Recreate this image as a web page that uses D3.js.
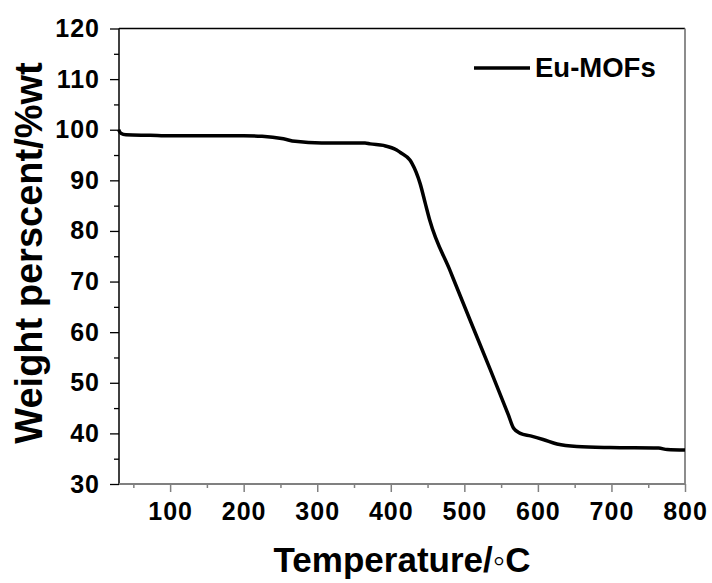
<!DOCTYPE html>
<html><head><meta charset="utf-8">
<script src="https://cdn.jsdelivr.net/npm/d3@7"></script>
<style>
html,body{margin:0;padding:0;background:#fff;}
text{font-family:"Liberation Sans",Arial,sans-serif;font-weight:bold;fill:#000;}
</style></head>
<body>
<svg id="chart" width="712" height="583"></svg>
<script>
const temperature = [30, 33, 40, 73, 100, 150, 200, 225, 254, 270, 306, 340, 365, 372, 390, 408, 413, 426, 429, 440, 447, 453, 481, 508, 535, 560, 567, 576, 590, 607, 626, 653, 698, 764, 776, 800];
const weight =      [100, 99.3, 99.0, 98.9, 98.8, 98.8, 98.8, 98.7, 98.2, 97.7, 97.4, 97.4, 97.4, 97.2, 96.9, 96.0, 95.5, 94.0, 93.3, 89.3, 85.4, 82.1, 72.0, 62.3, 52.7, 43.6, 41.0, 40.0, 39.5, 38.8, 37.9, 37.4, 37.2, 37.1, 36.8, 36.7];
const xTicks = [100, 200, 300, 400, 500, 600, 700, 800];
const xMinor = [50, 150, 250, 350, 450, 550, 650, 750];
const yTicks = [30, 40, 50, 60, 70, 80, 90, 100, 110, 120];
const yMinor = [35, 45, 55, 65, 75, 85, 95, 105, 115];
const seriesName = "Eu-MOFs";
const xTitle = "Temperature/\u25E6C";
const yTitle = "Weight perscent/%wt";

const svg = d3.select("#chart");
const L = 119, R = 685, T = 28.5, B = 484;
const x = d3.scaleLinear().domain([30.5, 800]).range([L, R]);
const y = d3.scaleLinear().domain([30, 120]).range([B, T]);

svg.append("rect").attr("width",712).attr("height",583).attr("fill","#fff");

// bottom axis (gray)
const gx = svg.append("g").attr("transform",`translate(0,${B})`)
  .call(d3.axisBottom(x).tickValues(xTicks).tickSize(8).tickPadding(10).tickFormat(d3.format("d")));
gx.select(".domain").remove();
gx.selectAll(".tick line").attr("stroke","#808080").attr("stroke-width",1.5);
gx.selectAll(".tick text").attr("font-size",25).style("letter-spacing","1px").attr("fill","#000");
svg.append("g").attr("transform",`translate(0,${B})`)
  .call(d3.axisBottom(x).tickValues(xMinor).tickSize(4).tickFormat(""))
  .call(g=>g.select(".domain").remove())
  .selectAll(".tick line").attr("stroke","#808080").attr("stroke-width",1.5);

// left axis (black)
const gy = svg.append("g").attr("transform",`translate(${L},0)`)
  .call(d3.axisLeft(y).tickValues(yTicks).tickSize(9).tickPadding(10).tickFormat(d3.format("d")));
gy.select(".domain").remove();
gy.selectAll(".tick line").attr("stroke","#000").attr("stroke-width",1.3);
gy.selectAll(".tick text").attr("font-size",25).style("letter-spacing","1px").attr("fill","#000");
svg.append("g").attr("transform",`translate(${L},0)`)
  .call(d3.axisLeft(y).tickValues(yMinor).tickSize(5).tickFormat(""))
  .call(g=>g.select(".domain").remove())
  .selectAll(".tick line").attr("stroke","#000").attr("stroke-width",1.3);

// frame
svg.append("line").attr("x1",L).attr("x2",R).attr("y1",T).attr("y2",T).attr("stroke","#000").attr("stroke-width",1.3);
svg.append("line").attr("x1",L).attr("x2",L).attr("y1",T).attr("y2",B).attr("stroke","#000").attr("stroke-width",1.5);
svg.append("line").attr("x1",L).attr("x2",R).attr("y1",B).attr("y2",B).attr("stroke","#808080").attr("stroke-width",1.8);
svg.append("line").attr("x1",R).attr("x2",R).attr("y1",T).attr("y2",B).attr("stroke","#808080").attr("stroke-width",1.8);

// curve
const data = temperature.map((t,i)=>({t, w: weight[i]}));
svg.append("path").datum(data)
  .attr("fill","none").attr("stroke","#000").attr("stroke-width",3.5).attr("stroke-linejoin","round")
  .attr("d", d3.line().x(d=>x(d.t)).y(d=>y(d.w)).curve(d3.curveMonotoneX));

// legend
svg.append("line").attr("x1",474).attr("x2",530).attr("y1",68).attr("y2",68).attr("stroke","#000").attr("stroke-width",3.5);
svg.append("text").attr("x",535).attr("y",76.5).attr("font-size",27.5).text(seriesName);

// titles
svg.append("text").attr("x",(L+R)/2).attr("y",572).attr("text-anchor","middle").attr("font-size",35).text(xTitle);
svg.append("text").attr("transform",`translate(42,253) rotate(-90)`).attr("text-anchor","middle").attr("font-size",38).text(yTitle);
</script>
</body></html>
